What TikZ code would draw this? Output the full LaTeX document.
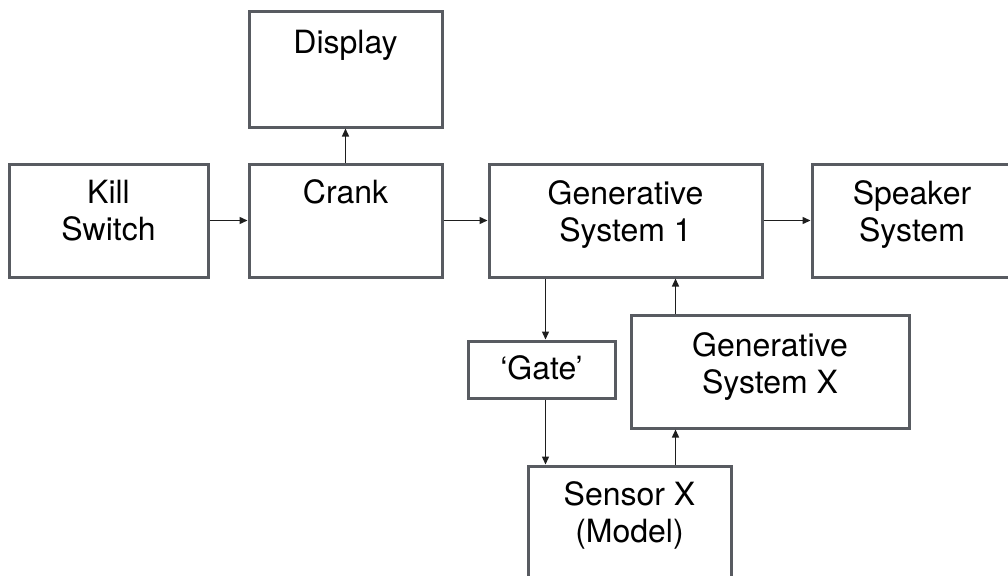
\documentclass[tikz,border=0pt]{standalone}
\usepackage{fontspec}
\setmainfont{TeX Gyre Heros}
\usetikzlibrary{arrows.meta,calc}
\definecolor{boxline}{HTML}{585B61}
\definecolor{arrline}{HTML}{1E1E1E}
\begin{document}
\begin{tikzpicture}[x=1pt,y=-1pt,
  blk/.style={draw=boxline,line width=3pt,rectangle,inner sep=0pt,
    minimum width=#1},
  lbl/.style={anchor=north,align=center,inner sep=0pt,
    font=\fontsize{32pt}{37pt}\selectfont},
  arr/.style={draw=arrline,line width=1.4pt,
    -{Triangle[length=8pt,width=7pt]}}]
\clip (0,0) rectangle (1008,575);
% top row
\node[blk=199pt,minimum height=113pt] (kill) at (108.5,220.5) {};
\node[blk=193pt,minimum height=115pt] (display) at (345.5,69.5) {};
\node[blk=193pt,minimum height=113pt] (crank) at (345.5,220.5) {};
\node[blk=273pt,minimum height=113pt] (gen1) at (625.5,220.5) {};
\node[blk=200pt,minimum height=113pt] (speaker) at (912,220.5) {};
% lower boxes
\node[blk=147pt,minimum height=57pt] (gate) at (541.5,369.5) {};
\node[blk=278pt,minimum height=113pt] (genx) at (770,371.5) {};
\node[blk=203pt,minimum height=119pt] (sensor) at (629.5,525.5) {};
% labels
\node[lbl] (killT) at ([yshift=-17pt]kill.north) {Kill\\Switch};
\node[lbl] (displayT) at ([yshift=-19pt]display.north) {Display};
\node[lbl] (crankT) at ([yshift=-17pt]crank.north) {Crank};
\node[lbl] (gen1T) at ([yshift=-18pt]gen1.north) {Generative\\System 1};
\node[lbl] (speakerT) at ([yshift=-18pt]speaker.north) {Speaker\\System};
\node[lbl] (gateT) at ([yshift=-16pt]gate.north) {‘Gate’};
\node[lbl] (genxT) at ([yshift=-19pt]genx.north) {Generative\\System X};
\node[lbl] (sensorT) at ([yshift=-17pt]sensor.north) {Sensor X\\(Model)};
% connectors
\coordinate (gx) at ([xshift=46pt]genx.north west);
\coordinate (gt) at ([xshift=4pt]gate.north);
\draw[arr] (kill.east) -- (crank.west);
\draw[arr] (crank.north) -- (display.south);
\draw[arr] (crank.east) -- (gen1.west);
\draw[arr] (gen1.east) -- (speaker.west);
\draw[arr] (gen1.south -| gt) -- (gt);
\draw[arr] (gx) -- (gen1.south -| gx);
\draw[arr] (gate.south -| gt) -- (sensor.north -| gt);
\draw[arr] (sensor.north -| gx) -- (genx.south -| gx);
\end{tikzpicture}
\end{document}
